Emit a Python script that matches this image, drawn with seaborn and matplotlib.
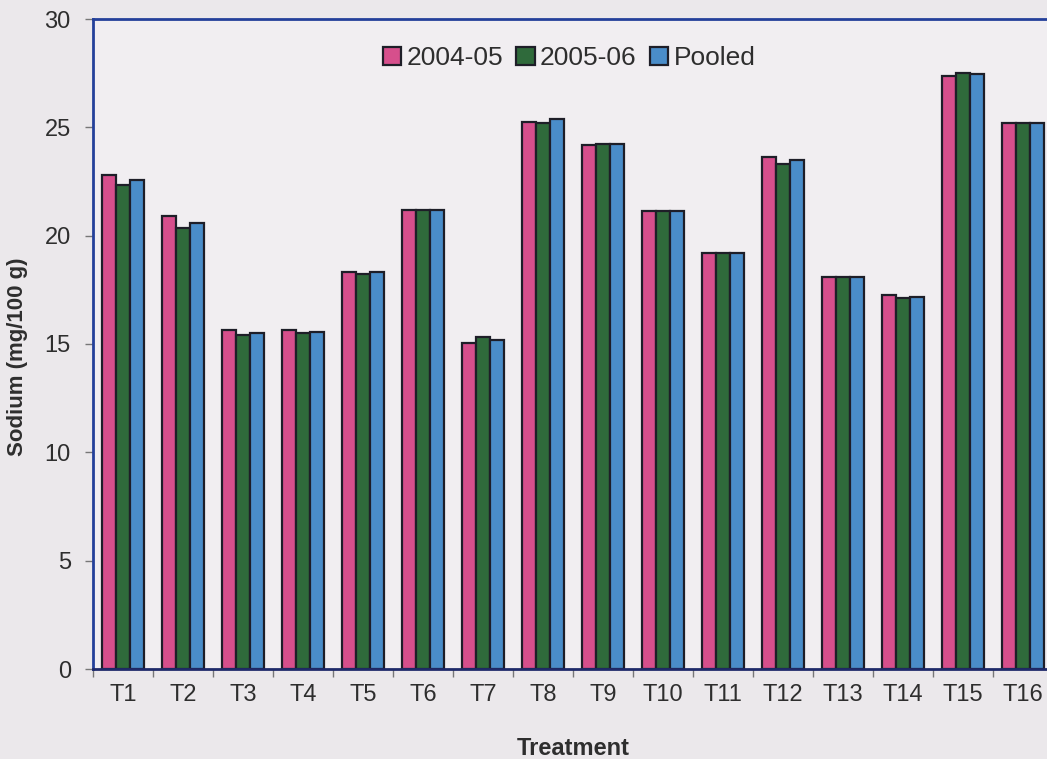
import numpy as np
import pandas as pd
import matplotlib
matplotlib.use("Agg")
import matplotlib.pyplot as plt
from matplotlib.ticker import FixedLocator
import seaborn as sns

# Sodium content by treatment for the two seasons and the pooled mean
treatments = [f"T{i}" for i in range(1, 17)]
season_2004_05 = [22.8, 20.9, 15.65, 15.65, 18.3, 21.2, 15.05, 25.25, 24.2, 21.15, 19.2, 23.65, 18.1, 17.25, 27.35, 25.2]
season_2005_06 = [22.35, 20.35, 15.4, 15.5, 18.25, 21.2, 15.3, 25.2, 24.25, 21.15, 19.2, 23.3, 18.1, 17.1, 27.5, 25.2]
pooled = [22.55, 20.6, 15.5, 15.55, 18.3, 21.2, 15.2, 25.4, 24.25, 21.15, 19.2, 23.5, 18.1, 17.15, 27.45, 25.2]
series_names = ["2004-05", "2005-06", "Pooled"]
y_ticks = [0, 5, 10, 15, 20, 25, 30]

df = pd.DataFrame({
    "Treatment": treatments * 3,
    "Sodium": season_2004_05 + season_2005_06 + pooled,
    "Season": [s for s in series_names for _ in treatments],
})

sns.set_theme(style="white")
plt.rcParams["font.family"] = ["Liberation Sans", "DejaVu Sans"]

bg = "#ebe8eb"
fig = plt.figure(figsize=(10.47, 7.59), dpi=100, facecolor=bg)
ax = fig.add_axes([93 / 1047, 90 / 759, (1053 - 93) / 1047, 650 / 759])
ax.set_facecolor("#f1eef1")

palette = {"2004-05": "#d64f8c", "2005-06": "#2f6a3b", "Pooled": "#4a8dc9"}
sns.barplot(data=df, x="Treatment", y="Sodium", hue="Season", order=treatments,
            hue_order=series_names, palette=palette, width=0.7, gap=0,
            saturation=1, edgecolor="#1e1e28", linewidth=1.6, ax=ax)

text_color = "#2e2e2e"
ax.set_ylim(0, 30)
ax.set_xlim(-0.5, len(treatments) - 0.5)
ax.set_yticks(y_ticks)
ax.set_yticklabels([str(v) for v in y_ticks], fontsize=17, color=text_color)
ax.set_xticklabels(treatments, fontsize=17, color=text_color)
ax.xaxis.set_minor_locator(FixedLocator(np.arange(-0.5, len(treatments), 1.0)))
ax.tick_params(axis="x", which="major", length=0, pad=11)
ax.tick_params(axis="x", which="minor", length=6, width=1, color="#777777", direction="out", bottom=True)
ax.tick_params(axis="y", which="major", length=6, width=1, color="#777777", direction="out", left=True, pad=10)

ax.set_xlabel("Treatment", fontsize=17, fontweight="bold", color=text_color, labelpad=22)
ax.set_ylabel("Sodium (mg/100 g)", fontsize=16, fontweight="bold", color=text_color)
ax.yaxis.set_label_coords(-0.068, 0.48)

for side in ["left", "top"]:
    ax.spines[side].set_color("#24409a")
    ax.spines[side].set_linewidth(2)
ax.spines["bottom"].set_color("#1f2a6a")
ax.spines["bottom"].set_linewidth(2)
ax.spines["right"].set_visible(False)

ax.legend(title=None, loc="upper center", bbox_to_anchor=(0.496, 0.995), ncol=3,
          frameon=False, fontsize=19, handlelength=0.7, handleheight=0.7,
          handletextpad=0.2, columnspacing=0.5, labelcolor=text_color)

fig.savefig("out.png", dpi=100, facecolor=bg)
